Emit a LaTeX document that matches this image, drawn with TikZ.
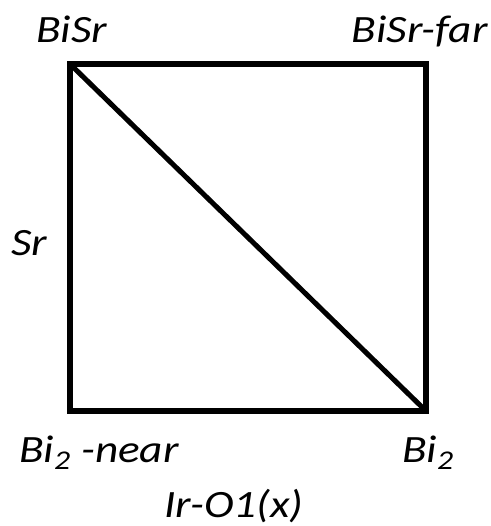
\documentclass[tikz,border=0pt]{standalone}
\usepackage{graphicx}
\usepackage{fontspec}
\setmainfont{Carlito}
\usepackage{tikz}
\usetikzlibrary{positioning}
\newcommand{\sitetext}[1]{\scalebox{1.17}[1]{#1}}

\begin{document}
\begin{tikzpicture}[x=0.03cm, y=-0.03cm,
    frame/.style={draw=black, line width=4.3pt, line join=miter},
    site/.style={inner sep=0pt, font=\fontsize{33}{38}\selectfont\itshape}
]
    \useasboundingbox (0,0) rectangle (490,526);

    \coordinate (tl) at (70,64);
    \coordinate (tr) at (426,64);
    \coordinate (br) at (426,411);
    \coordinate (bl) at (70,411);

    \draw[frame] (tl) -- (tr) -- (br) -- (bl) -- cycle;
    \draw[frame] (tl) -- (br);

    \node[site, anchor=base west] (bisr) at (36,42) {\sitetext{BiSr}};
    \node[site, anchor=base east] (bisrfar) at (488,42) {\sitetext{BiSr-far}};
    \node[site, anchor=base west] (sr) at (11,255) {\sitetext{Sr}};
    \node[site, anchor=base west] (binear) at (19,462) {\sitetext{Bi\textsubscript{2} -near}};
    \node[site, anchor=base west] (bi) at (402,462) {\sitetext{Bi\textsubscript{2}}};
    \node[site, anchor=base] (iro) at (234,517) {\sitetext{Ir-O1(x)}};
\end{tikzpicture}
\end{document}
